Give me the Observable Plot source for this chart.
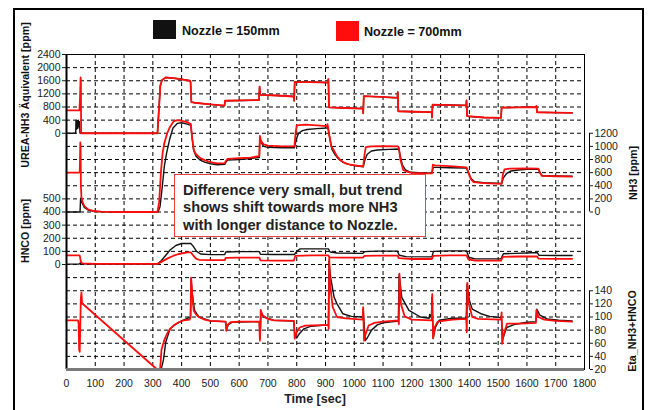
<!DOCTYPE html>
<html><head><meta charset="utf-8">
<script src="https://cdn.jsdelivr.net/npm/d3@7"></script>
<script src="https://cdn.jsdelivr.net/npm/@observablehq/plot@0.6"></script>
<style>
html,body{margin:0;padding:0;background:#fff;overflow:hidden;}
#wrap{position:relative;width:649px;height:410px;font-family:"Liberation Sans",Arial,Helvetica,sans-serif;color:#111;overflow:hidden;}
#wrap svg{position:absolute;left:0;top:0;}
#frame{position:absolute;left:13px;top:8px;width:627px;height:430px;border:2px solid #000;border-bottom:none;pointer-events:none;}
.sw{position:absolute;}
.lg{position:absolute;font-size:12.6px;font-weight:bold;line-height:12.6px;white-space:nowrap;color:#111;}
.rot{position:absolute;transform:translate(-50%,-50%) rotate(-90deg);white-space:nowrap;font-weight:bold;font-size:10.7px;line-height:1;color:#111;}
#xl{position:absolute;left:315px;top:399px;transform:translate(-50%,-50%);font-weight:bold;font-size:12.5px;line-height:1;white-space:nowrap;color:#222;}
#note{position:absolute;left:174px;top:174px;width:252px;height:63px;box-sizing:border-box;border:1.5px solid #e84040;background:#fff;padding:6.7px 0 0 8px;font-weight:bold;font-size:14.7px;line-height:17.5px;color:#222;white-space:nowrap;}
</style></head>
<body><div id="wrap"></div>
<script>
// ---------------- data (time [sec], value) ----------------
const seriesNames = ["Nozzle = 150mm", "Nozzle = 700mm"];
const seriesColors = ["#111111", "#ff0d0d"];

const timeTicks = [0,100,200,300,400,500,600,700,800,900,1000,1100,1200,1300,1400,1500,1600,1700,1800];
const ureaTicks = [0,400,800,1200,1600,2000,2400];
const nh3Ticks  = [0,200,400,600,800,1000,1200];
const hncoTicks = [0,100,200,300,400,500];
const etaTicks  = [20,40,60,80,100,120,140];

// UREA-NH3 equivalent [ppm]
const ureaHead150 = [[0,0],[32,0],[33,400],[35,120],[37,380],[39,150],[41,400],[43,200],[45,350],[47,0],[51,0]];
const ureaHead700 = [[0,700],[45,700],[47,1100],[49,1700],[50,1600],[51,0]];
const ureaCommon = [[316,0],[321,700],[326,1450],[332,1620],[345,1700],[380,1670],[410,1630],[429,1600],[431,1560],[434,950],[445,930],[500,880],[549,840],[551,990],[610,1000],[669,1010],[671,1420],[673,1170],[730,1150],[790,1120],[791,990],[793,1560],[850,1560],[909,1545],[910,1650],[912,790],[970,770],[1030,750],[1031,610],[1033,1130],[1090,1110],[1150,1080],[1151,1255],[1153,670],[1210,655],[1269,645],[1270,480],[1272,870],[1330,860],[1389,850],[1390,1000],[1392,520],[1450,480],[1510,470],[1512,780],[1570,790],[1632,800],[1633,830],[1635,640],[1700,630],[1757,620]];

// NH3 [ppm]
const nh3_150 = [[0,0],[44,0],[47,0],[49,210],[51,180],[56,120],[62,70],[75,30],[95,10],[120,3],[200,0],[318,0],[325,80],[332,350],[340,700],[348,900],[358,1100],[370,1280],[385,1350],[400,1360],[420,1340],[432,1320],[436,1150],[442,940],[450,850],[465,790],[480,760],[500,735],[524,720],[550,725],[554,760],[560,790],[600,800],[640,815],[670,830],[672,1140],[676,1060],[685,1000],[700,985],[750,980],[792,980],[798,1100],[806,1200],[820,1240],[836,1257],[870,1270],[905,1280],[908,1300],[914,1150],[922,960],[932,880],[945,810],[960,760],[980,725],[1010,700],[1031,690],[1036,780],[1045,880],[1060,930],[1080,945],[1120,955],[1155,960],[1160,850],[1167,720],[1178,640],[1195,605],[1240,595],[1270,590],[1274,680],[1285,680],[1330,675],[1390,670],[1396,610],[1406,510],[1418,460],[1450,445],[1512,435],[1518,520],[1530,590],[1545,625],[1570,640],[1600,650],[1640,650],[1646,590],[1655,550],[1700,548],[1757,545]];
const nh3_700 = [[0,600],[44,600],[46,610],[48,1060],[49,1000],[50,400],[52,220],[56,150],[62,90],[75,40],[95,15],[120,5],[200,0],[316,0],[322,150],[328,600],[334,900],[340,1050],[350,1200],[360,1300],[372,1380],[385,1400],[400,1390],[420,1370],[432,1340],[436,1150],[442,950],[450,880],[465,820],[480,790],[500,760],[524,740],[550,745],[554,780],[560,810],[600,820],[640,830],[670,850],[672,1160],[676,1080],[685,1030],[700,1010],[750,1000],[792,1000],[796,1200],[800,1320],[830,1330],[870,1320],[905,1310],[907,1340],[912,1200],[920,1000],[929,940],[940,850],[952,790],[970,740],[987,720],[1010,705],[1031,695],[1035,860],[1040,990],[1060,1000],[1100,1005],[1150,1000],[1155,980],[1160,800],[1170,640],[1185,610],[1200,595],[1240,590],[1270,590],[1273,720],[1280,710],[1330,700],[1390,680],[1395,620],[1405,500],[1415,455],[1450,440],[1512,430],[1516,560],[1522,650],[1540,660],[1600,665],[1640,660],[1645,600],[1652,550],[1700,545],[1757,540]];

// HNCO [ppm]
const hnco_150 = [[0,3],[44,3],[47,10],[49,12],[52,5],[100,3],[316,3],[330,30],[345,70],[360,110],[380,145],[400,160],[432,160],[440,140],[452,100],[466,80],[500,75],[550,75],[553,95],[600,98],[670,98],[674,78],[720,76],[792,76],[800,100],[812,119],[910,119],[916,95],[940,88],[1030,85],[1036,98],[1080,102],[1150,102],[1156,70],[1180,60],[1270,58],[1275,100],[1330,104],[1390,104],[1398,55],[1420,43],[1510,43],[1518,82],[1560,85],[1620,90],[1636,90],[1642,70],[1700,69],[1757,69]];
const hnco_700 = [[0,70],[44,70],[46,68],[50,20],[55,8],[100,5],[200,5],[316,5],[330,20],[350,45],[370,65],[390,80],[419,92],[432,92],[440,70],[450,45],[460,36],[500,33],[550,33],[553,50],[600,52],[670,52],[674,32],[720,30],[790,30],[795,65],[850,69],[910,69],[914,55],[960,52],[1030,52],[1035,65],[1080,68],[1150,68],[1155,48],[1200,42],[1270,42],[1274,65],[1330,69],[1390,69],[1396,40],[1420,30],[1510,30],[1516,58],[1570,61],[1635,61],[1640,45],[1700,43],[1757,43]];

// Eta_NH3+HNCO
const eta_150 = [[325,20],[330,22],[337,35],[345,62],[360,82],[380,89],[400,94],[420,98],[431,100],[433,158],[437,135],[445,110],[460,100],[500,94],[553,93],[556,81],[562,88],[575,92],[670,93],[673,68],[676,108],[685,100],[720,95],[790,94],[794,70],[800,68],[810,75],[825,82],[850,86],[910,88],[912,185],[918,160],[930,130],[940,120],[960,105],[990,101],[1029,100],[1031,112],[1038,64],[1045,68],[1060,80],[1080,88],[1100,91],[1153,94],[1156,165],[1165,130],[1190,110],[1230,100],[1260,98],[1262,104],[1268,100],[1270,130],[1274,67],[1282,84],[1295,95],[1340,98],[1389,98],[1392,150],[1400,125],[1410,112],[1440,105],[1470,101],[1510,99],[1512,95],[1515,66],[1530,84],[1560,89],[1600,92],[1631,93],[1634,112],[1645,103],[1670,97],[1710,95],[1757,94]];
const eta_700 = [[0,95],[40,95],[42,90],[44,50],[46,47],[48,90],[50,130],[52,137],[54,121],[315,20],[325,20],[327,30],[330,50],[340,65],[350,75],[360,82],[372,87],[390,92],[408,95],[428,96],[431,100],[433,160],[436,140],[442,110],[450,104],[460,100],[480,96],[500,94],[553,93],[555,79],[560,88],[570,92],[600,93],[670,93],[672,64],[675,111],[680,103],[700,97],[720,95],[790,94],[793,67],[800,77],[810,84],[830,87],[910,88],[911,82],[913,190],[916,150],[925,115],[940,100],[970,98],[1029,96],[1031,115],[1034,64],[1040,75],[1050,87],[1070,91],[1100,93],[1153,95],[1155,89],[1157,166],[1162,120],[1175,101],[1200,96],[1269,95],[1271,135],[1274,68],[1280,85],[1290,93],[1340,96],[1389,97],[1391,77],[1393,152],[1398,120],[1410,100],[1430,97],[1510,96],[1512,107],[1514,59],[1520,75],[1531,90],[1580,90],[1631,91],[1633,111],[1640,100],[1660,96],[1700,94],[1757,93]];

// ---------------- panel mapping onto a shared row scale ----------------
const panels = {
  urea: {base: 18, step: 400, v0: 0},
  nh3:  {base: 12, step: 200, v0: 0},
  hnco: {base: 8,  step: 100, v0: 0},
  eta:  {base: 0,  step: 20,  v0: 20}
};
const toRow = (p, v) => p.base + (v - p.v0) / p.step;
const fromRow = (p, r) => String(Math.round(p.v0 + (r - p.base) * p.step));
const rowsOf = (p, ticks) => ticks.map(v => toRow(p, v));
const totalRows = toRow(panels.urea, ureaTicks[ureaTicks.length - 1]);
const gridRows = d3.range(1, totalRows);

const ureaSeries = [ureaHead150.concat(ureaCommon), ureaHead700.concat(ureaCommon)];
const nh3Series = [nh3_150, nh3_700];
const hncoSeries = [hnco_150, hnco_700];
const etaSeries = [eta_150, eta_700];

const lineMarks = [];
[0, 1].forEach(i => {
  const sw = i === 0 ? 1.4 : 1.8;
  [[ureaSeries, panels.urea], [nh3Series, panels.nh3], [hncoSeries, panels.hnco], [etaSeries, panels.eta]].forEach(([s, p]) => {
    lineMarks.push(Plot.line(s[i], {x: d => d[0], y: d => toRow(p, d[1]), stroke: seriesColors[i], strokeWidth: sw, strokeLinejoin: "round"}));
  });
});

const xMax = timeTicks[timeTicks.length - 1];
const dash = "4,3";
const chart = Plot.plot({
  width: 649, height: 410,
  marginLeft: 66, marginRight: 65, marginTop: 54, marginBottom: 41,
  x: {domain: [timeTicks[0], xMax], axis: null},
  y: {domain: [0, totalRows], axis: null},
  style: {fontFamily: '"Liberation Sans", Arial, Helvetica, sans-serif', fontSize: "10.5px", color: "#1a1a1a", background: "transparent", overflow: "visible"},
  marks: [
    Plot.gridX(timeTicks.slice(1, -1), {stroke: "#000", strokeOpacity: 1, strokeWidth: 1, strokeDasharray: dash}),
    Plot.gridY(gridRows, {stroke: "#000", strokeOpacity: 1, strokeWidth: 1, strokeDasharray: dash}),
    Plot.frame({stroke: "#000", strokeWidth: 1}),
    ...lineMarks,
    Plot.ruleX([timeTicks[0]], {stroke: "#000", strokeWidth: 2}),
    Plot.ruleY([0], {stroke: "#7a7a7a", strokeWidth: 3}),
    Plot.axisX(timeTicks, {tickSize: 0, tickPadding: 10, fontSize: 10.5, label: null, tickFormat: d => String(d)}),
    Plot.axisY(rowsOf(panels.urea, ureaTicks), {anchor: "left", tickSize: 4, tickPadding: 2, fontSize: 10.5, label: null, tickFormat: r => fromRow(panels.urea, r)}),
    Plot.axisY(rowsOf(panels.hnco, hncoTicks), {anchor: "left", tickSize: 4, tickPadding: 2, fontSize: 10.5, label: null, tickFormat: r => fromRow(panels.hnco, r)}),
    Plot.ruleX([{x: xMax, y1: toRow(panels.nh3, nh3Ticks[0]), y2: toRow(panels.nh3, nh3Ticks[nh3Ticks.length-1])}], {x: "x", y1: "y1", y2: "y2", dx: 5, stroke: "#000", strokeWidth: 1}),
    Plot.axisY(rowsOf(panels.nh3, nh3Ticks), {anchor: "right", dx: 5, tickSize: 3, tickPadding: 2, fontSize: 10.5, label: null, tickFormat: r => fromRow(panels.nh3, r)}),
    Plot.ruleX([{x: xMax, y1: toRow(panels.eta, etaTicks[0]), y2: toRow(panels.eta, etaTicks[etaTicks.length-1])}], {x: "x", y1: "y1", y2: "y2", dx: 5, stroke: "#000", strokeWidth: 1}),
    Plot.axisY(rowsOf(panels.eta, etaTicks), {anchor: "right", dx: 5, tickSize: 3, tickPadding: 2, fontSize: 10.5, label: null, tickFormat: r => fromRow(panels.eta, r)})
  ]
});

const wrap = document.getElementById("wrap");
wrap.appendChild(chart);

function add(html) { wrap.insertAdjacentHTML("beforeend", html); }
add('<div id="frame"></div>');
add(`<div class="sw" style="left:153px;top:20px;width:23px;height:19px;background:${seriesColors[0]}"></div>`);
add(`<div class="lg" style="left:182px;top:25px">${seriesNames[0]}</div>`);
add(`<div class="sw" style="left:336px;top:21px;width:23px;height:20px;background:${seriesColors[1]}"></div>`);
add(`<div class="lg" style="left:364px;top:25.5px">${seriesNames[1]}</div>`);
add('<div class="rot" style="left:24.5px;top:95px">UREA-NH3 Äquivalent [ppm]</div>');
add('<div class="rot" style="left:25px;top:230.5px">HNCO [ppm]</div>');
add('<div class="rot" style="left:633px;top:172.5px">NH3 [ppm]</div>');
add('<div class="rot" style="left:632px;top:331px">Eta_NH3+HNCO</div>');
add('<div id="xl">Time [sec]</div>');
add('<div id="note">Difference very small, but trend<br>shows shift towards more NH3<br>with longer distance to Nozzle.</div>');
</script>
</body></html>
